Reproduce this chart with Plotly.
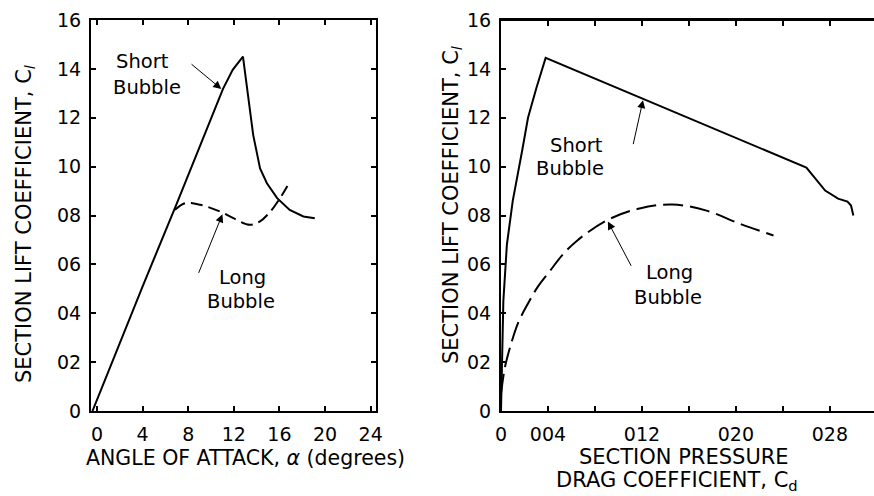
import plotly.graph_objects as go

# ---------------- data ----------------
# Left panel: lift vs angle of attack
alpha_short = [-0.4, 2.0, 4.0, 7.0, 9.5, 11.05, 11.9, 12.8, 13.7, 14.3, 14.9, 15.8, 16.9, 18.1, 19.1]
cl_short_a = [0.0, 0.28, 0.51, 0.85, 1.135, 1.318, 1.396, 1.45, 1.129, 0.993, 0.932, 0.871, 0.823, 0.796, 0.789]

alpha_long = [6.84, 7.72, 9.04, 10.8, 11.96, 13.4, 14.3, 15.2, 16.05, 16.7]
cl_long_a = [0.823, 0.850, 0.844, 0.816, 0.789, 0.762, 0.776, 0.816, 0.871, 0.921]

# Right panel: lift vs pressure drag coefficient
cd_short = [0.0, 0.0001, 0.0002, 0.0005, 0.0010, 0.0018, 0.0023, 0.0030, 0.0038,
            0.0260, 0.0267, 0.0276, 0.0287, 0.0295, 0.0298, 0.0300]
cl_short_d = [0.0, 0.20, 0.45, 0.68, 0.86, 1.065, 1.20, 1.32, 1.445,
              0.996, 0.955, 0.902, 0.869, 0.857, 0.841, 0.80]

cd_long = [0.0, 0.00034, 0.00077, 0.00145, 0.0023, 0.0031, 0.0042, 0.0052, 0.0065,
           0.0090, 0.0118, 0.0146, 0.0175, 0.0203, 0.0232]
cl_long_d = [0.07, 0.18, 0.26, 0.36, 0.44, 0.506, 0.575, 0.637, 0.698,
             0.78, 0.829, 0.845, 0.82, 0.767, 0.718]

y_tickvals = [0, 0.2, 0.4, 0.6, 0.8, 1.0, 1.2, 1.4, 1.6]
y_ticktext = ["0", "02", "04", "06", "08", "10", "12", "14", "16"]
xa_tickvals = [0, 4, 8, 12, 16, 20, 24]
xa_ticktext = ["0", "4", "8", "12", "16", "20", "24"]
xd_tickvals = [0, 0.004, 0.008, 0.012, 0.016, 0.020, 0.024, 0.028, 0.032]
xd_ticktext = ["0", "004", "", "012", "", "020", "", "028", ""]

FONT = "DejaVu Sans"
W, H = 874, 496

fig = go.Figure()
fig.add_trace(go.Scatter(x=alpha_short, y=cl_short_a, mode="lines",
                         line=dict(color="black", width=2), xaxis="x", yaxis="y", showlegend=False))
fig.add_trace(go.Scatter(x=alpha_long, y=cl_long_a, mode="lines",
                         line=dict(color="black", width=2, dash="12px,6px", shape="spline"),
                         xaxis="x", yaxis="y", showlegend=False))
fig.add_trace(go.Scatter(x=cd_short, y=cl_short_d, mode="lines",
                         line=dict(color="black", width=2), xaxis="x2", yaxis="y2", showlegend=False))
fig.add_trace(go.Scatter(x=cd_long, y=cl_long_d, mode="lines",
                         line=dict(color="black", width=2, dash="20px,7px", shape="spline"),
                         xaxis="x2", yaxis="y2", showlegend=False))
# invisible trace so the free top axis of the right panel is drawn
fig.add_trace(go.Scatter(x=[0], y=[0], mode="markers", marker=dict(opacity=0),
                         xaxis="x3", yaxis="y2", showlegend=False, hoverinfo="skip"))

ydom = [(H - 411) / H, (H - 20) / H]
axis_common = dict(showgrid=False, zeroline=False, showline=True, linecolor="black", linewidth=2,
                   ticks="inside", ticklen=5, tickwidth=1.5, tickcolor="black", automargin=False,
                   tickfont=dict(family=FONT, size=19, color="black"))

fig.update_layout(
    width=W, height=H, margin=dict(l=0, r=0, t=0, b=0, autoexpand=False),
    paper_bgcolor="white", plot_bgcolor="white",
    xaxis=dict(domain=[91 / W, 376 / W], range=[-0.53, 24.47], anchor="y",
               tickvals=xa_tickvals, ticktext=xa_ticktext, mirror="ticks",
               ticklabelstandoff=5, **axis_common),
    yaxis=dict(domain=ydom, range=[0, 1.6], anchor="x",
               tickvals=y_tickvals, ticktext=y_ticktext, mirror="ticks",
               ticklabelstandoff=4, **axis_common),
    xaxis2=dict(domain=[501 / W, 0.9995], range=[0, 0.03172], anchor="y2",
                tickvals=xd_tickvals, ticktext=xd_ticktext, mirror="ticks",
                ticklabelstandoff=5, **axis_common),
    xaxis3=dict(domain=[501 / W, 0.9995], overlaying="x2", side="top", anchor="free",
                position=ydom[1], range=[0, 0.03172],
                tickvals=xd_tickvals, showticklabels=False, **axis_common),
    yaxis2=dict(domain=ydom, range=[0, 1.6], anchor="x2",
                tickvals=y_tickvals, ticktext=y_ticktext, mirror=False,
                ticklabelstandoff=4, **axis_common),
)

# top frame of the right panel (safety)
fig.add_shape(type="line", xref="x2 domain", yref="y2 domain", x0=0, x1=1, y0=1, y1=1,
              line=dict(color="black", width=2), layer="above")

tf = dict(family=FONT, size=19.5, color="black")
ctr = dict(xanchor="center", yanchor="middle", showarrow=False, font=tf)
ann = []
# axis titles
ann.append(dict(xref="paper", yref="paper", x=25 / W, y=(H - 224) / H, textangle=-90,
                text="SECTION LIFT COEFFICIENT, C<sub><i>l</i></sub>",
                xanchor="center", yanchor="middle", showarrow=False, font=dict(family=FONT, size=21, color="black")))
ann.append(dict(xref="paper", yref="paper", x=452 / W, y=(H - 205) / H, textangle=-90,
                text="SECTION LIFT COEFFICIENT, C<sub><i>l</i></sub>",
                xanchor="center", yanchor="middle", showarrow=False, font=dict(family=FONT, size=21, color="black")))
ann.append(dict(xref="paper", yref="paper", x=246 / W, y=(H - 458) / H,
                text="ANGLE OF ATTACK, <i>α</i> (degrees)",
                xanchor="center", yanchor="middle", showarrow=False, font=dict(family=FONT, size=20.5, color="black")))
ann.append(dict(xref="paper", yref="paper", x=684 / W, y=(H - 457) / H,
                text="SECTION PRESSURE",
                xanchor="center", yanchor="middle", showarrow=False, font=dict(family=FONT, size=21, color="black")))
ann.append(dict(xref="paper", yref="paper", x=677 / W, y=(H - 481) / H,
                text="DRAG COEFFICIENT, C<sub>d</sub>",
                xanchor="center", yanchor="middle", showarrow=False, font=dict(family=FONT, size=21, color="black")))

# curve labels (left)
ann.append(dict(xref="x", yref="y", x=4.0, y=1.429, text="Short", **ctr))
ann.append(dict(xref="x", yref="y", x=4.4, y=1.322, text="Bubble", **ctr))
ann.append(dict(xref="x", yref="y", x=12.8, y=0.547, text="Long", **ctr))
ann.append(dict(xref="x", yref="y", x=12.6, y=0.449, text="Bubble", **ctr))

# curve labels (right)
ann.append(dict(xref="x2", yref="y2", x=0.00647, y=1.086, text="Short", **ctr))
ann.append(dict(xref="x2", yref="y2", x=0.00587, y=0.992, text="Bubble", **ctr))
ann.append(dict(xref="x2", yref="y2", x=0.01438, y=0.567, text="Long", **ctr))
ann.append(dict(xref="x2", yref="y2", x=0.01421, y=0.465, text="Bubble", **ctr))

# arrows
arr = dict(text="", showarrow=True, arrowhead=2, arrowsize=1.6, arrowwidth=1, arrowcolor="black")
ann.append(dict(xref="x", yref="y", axref="x", ayref="y", x=10.9, y=1.318, ax=8.16, ay=1.424, **arr))
ann.append(dict(xref="x", yref="y", axref="x", ayref="y", x=11.0, y=0.805, ax=8.86, ay=0.559, **arr))
ann.append(dict(xref="x2", yref="y2", axref="x2", ayref="y2", x=0.01209, y=1.272, ax=0.01123, ay=1.086, **arr))
ann.append(dict(xref="x2", yref="y2", axref="x2", ayref="y2", x=0.0091, y=0.775, ax=0.01115, ay=0.588, **arr))

fig.update_layout(annotations=ann)
fig.write_html("out.html")
